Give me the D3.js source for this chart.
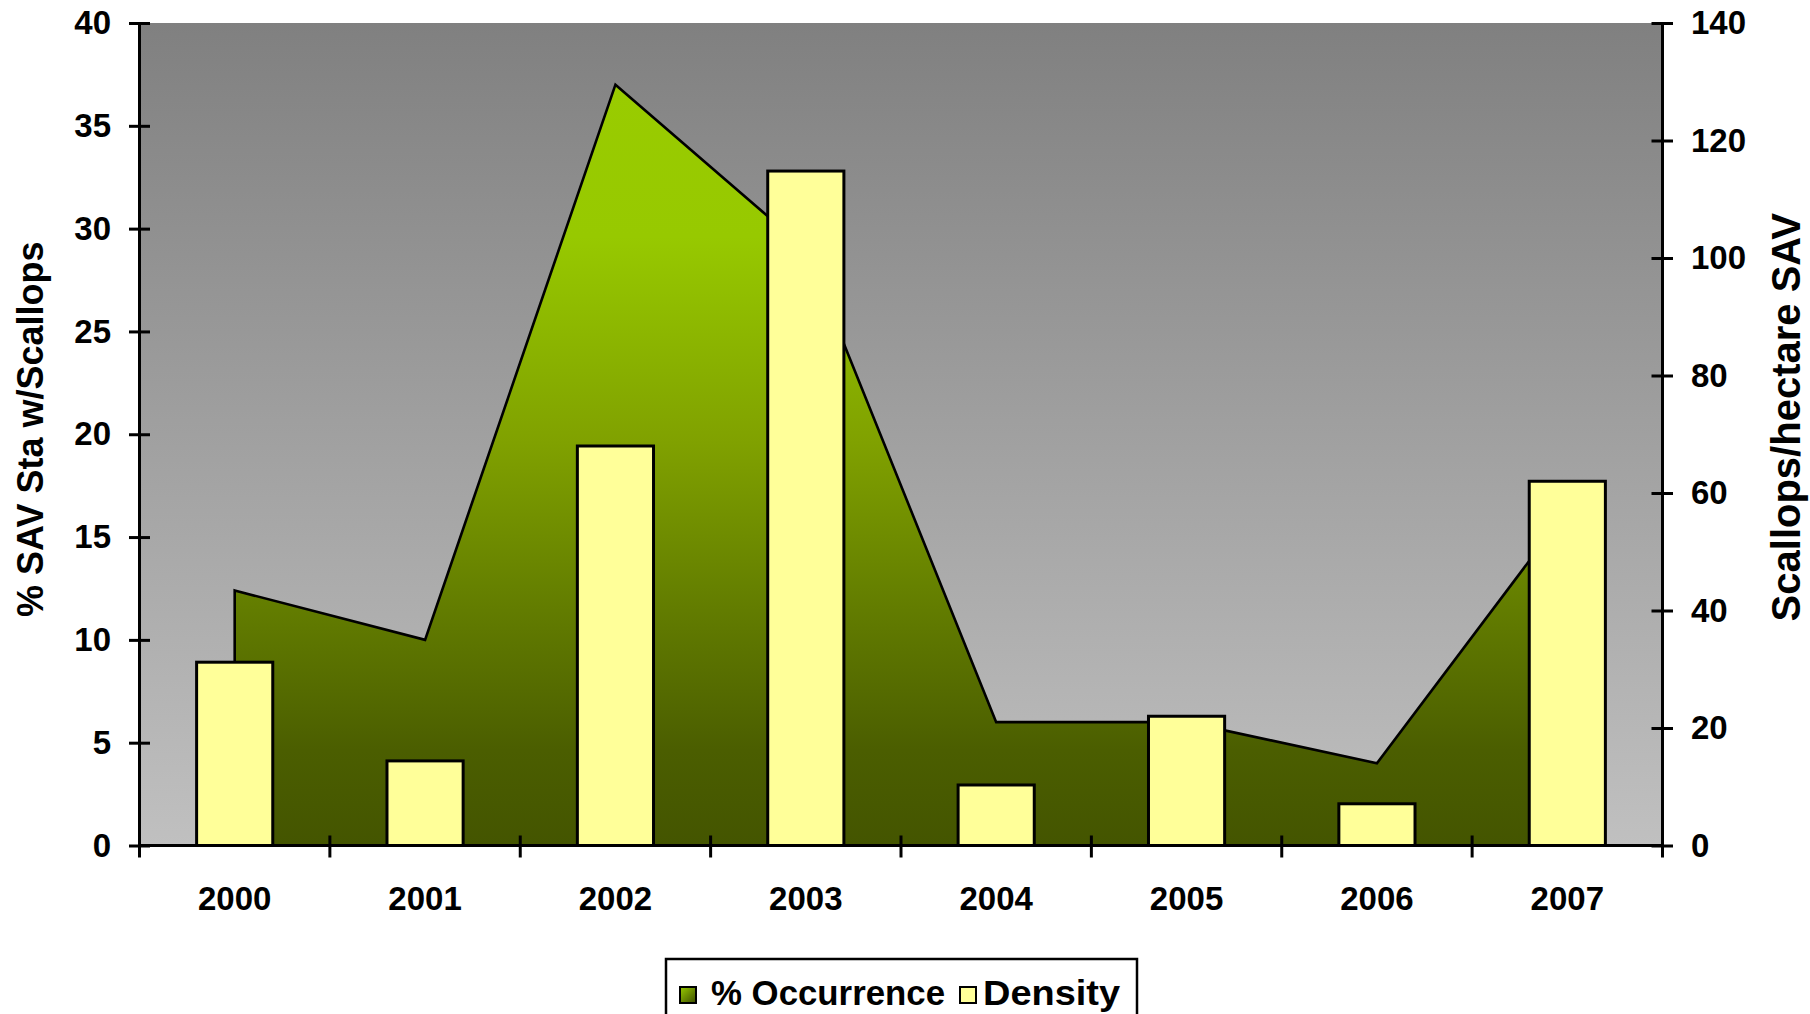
<!DOCTYPE html>
<html>
<head>
<meta charset="utf-8">
<script src="https://cdn.jsdelivr.net/npm/d3@7"></script>
<style>
  html, body { margin: 0; padding: 0; background: #ffffff; }
  svg { display: block; }
  text { font-family: "Liberation Sans", Arial, sans-serif; font-weight: bold; fill: #000; }
</style>
</head>
<body>
<svg id="chart" width="1810" height="1014"></svg>
<script>
// Scallop survey: occurrence at SAV stations (area, left axis) and density (bars, right axis)
const years = ["2000", "2001", "2002", "2003", "2004", "2005", "2006", "2007"];
const occurrence = [12.4, 10, 37, 29, 6, 6, 4, 16.3];        // % SAV stations with scallops
const density = [31.2, 14.4, 68, 114.8, 10.3, 22, 7.1, 62];   // scallops per hectare SAV
const leftTicks = [0, 5, 10, 15, 20, 25, 30, 35, 40];
const rightTicks = [0, 20, 40, 60, 80, 100, 120, 140];
const seriesNames = ["% Occurrence", "Density"];

const svg = d3.select("#chart");
const plot = { left: 139.5, right: 1662.5, top: 23, bottom: 845.5 };

const x = d3.scaleBand().domain(years)
  .range([plot.left, plot.right]).paddingInner(0.6).paddingOuter(0.3);
const xEdge = d3.scaleLinear().domain([0, years.length]).range([plot.left, plot.right]);
const yL = d3.scaleLinear().domain([0, 40]).range([plot.bottom, plot.top]);
const yR = d3.scaleLinear().domain([0, 140]).range([plot.bottom, plot.top]);
const cx = d => x(d) + x.bandwidth() / 2;

const defs = svg.append("defs");
const bg = defs.append("linearGradient").attr("id", "plotBg")
  .attr("x1", 0).attr("y1", 0).attr("x2", 0).attr("y2", 1);
bg.append("stop").attr("offset", 0).attr("stop-color", "#808080");
bg.append("stop").attr("offset", 1).attr("stop-color", "#c0c0c0");

const green = defs.append("linearGradient").attr("id", "areaFill")
  .attr("gradientUnits", "userSpaceOnUse")
  .attr("x1", 0).attr("x2", 0).attr("y1", yL(37)).attr("y2", yL(0));
[[0, "#99cc00"], [0.2, "#97c900"], [0.47, "#80a100"], [0.66, "#668100"], [0.875, "#4b5e00"], [1, "#445500"]]
  .forEach(([o, c]) => green.append("stop").attr("offset", o).attr("stop-color", c));

const greenKey = defs.append("linearGradient").attr("id", "keyFill")
  .attr("x1", 0).attr("y1", 0).attr("x2", 1).attr("y2", 1);
greenKey.append("stop").attr("offset", 0).attr("stop-color", "#99cc00");
greenKey.append("stop").attr("offset", 1).attr("stop-color", "#3c4c00");

// plot background
svg.append("rect")
  .attr("x", plot.left).attr("y", plot.top)
  .attr("width", plot.right - plot.left).attr("height", plot.bottom - plot.top)
  .attr("fill", "url(#plotBg)");

// occurrence area
const area = d3.area()
  .x((d, i) => cx(years[i]))
  .y0(yL(0))
  .y1(d => yL(d));
svg.append("path").datum(occurrence)
  .attr("d", area(occurrence) + "Z")
  .attr("fill", "url(#areaFill)")
  .attr("stroke", "#000").attr("stroke-width", 2.6).attr("stroke-linejoin", "miter");

// density bars
svg.append("g").selectAll("rect").data(density).join("rect")
  .attr("x", (d, i) => x(years[i]))
  .attr("y", d => yR(d))
  .attr("width", x.bandwidth())
  .attr("height", d => yR(0) - yR(d))
  .attr("fill", "#ffff99")
  .attr("stroke", "#000").attr("stroke-width", 3);

const tickFont = sel => sel.style("font-size", "33px")
  .style("font-family", "Liberation Sans, Arial, sans-serif")
  .style("font-weight", "bold").attr("fill", "#000");

// left axis
const gL = svg.append("g").attr("transform", `translate(${plot.left},0)`)
  .call(d3.axisLeft(yL).tickValues(leftTicks).tickSize(10.5).tickPadding(18));
gL.select(".domain").attr("stroke", "#000").attr("stroke-width", 3)
  .attr("d", `M0,${plot.top}V${plot.bottom}`);
gL.selectAll(".tick line").attr("x1", 10.5).attr("stroke-width", 3);
gL.selectAll(".tick text").call(tickFont);

// right axis
const gR = svg.append("g").attr("transform", `translate(${plot.right},0)`)
  .call(d3.axisRight(yR).tickValues(rightTicks).tickSize(10.5).tickPadding(18));
gR.select(".domain").attr("stroke", "#000").attr("stroke-width", 3)
  .attr("d", `M0,${plot.top}V${plot.bottom}`);
gR.selectAll(".tick line").attr("x1", -11).attr("stroke-width", 3);
gR.selectAll(".tick text").call(tickFont);

// category axis with ticks between categories
const gX = svg.append("g");
gX.append("line")
  .attr("x1", plot.left).attr("x2", plot.right)
  .attr("y1", plot.bottom).attr("y2", plot.bottom)
  .attr("stroke", "#000").attr("stroke-width", 3);
gX.selectAll(".edge").data(d3.range(years.length + 1)).join("line")
  .attr("class", "edge")
  .attr("x1", i => xEdge(i)).attr("x2", i => xEdge(i))
  .attr("y1", plot.bottom - 10).attr("y2", plot.bottom + 12)
  .attr("stroke", "#000").attr("stroke-width", 3);
gX.selectAll(".lbl").data(years).join("text")
  .attr("class", "lbl")
  .attr("x", d => cx(d)).attr("y", 910)
  .attr("text-anchor", "middle")
  .style("font-size", "33px")
  .text(d => d);

// axis titles
svg.append("text")
  .attr("transform", `translate(43,${(plot.top + plot.bottom) / 2 - 5}) rotate(-90)`)
  .attr("text-anchor", "middle")
  .style("font-size", "36px")
  .text("% SAV Sta w/Scallops");
svg.append("text")
  .attr("transform", `translate(1800,${(plot.top + plot.bottom) / 2 - 17}) rotate(-90)`)
  .attr("text-anchor", "middle")
  .style("font-size", "40px")
  .text("Scallops/hectare SAV");

// legend
const lg = svg.append("g");
lg.append("rect").attr("x", 666).attr("y", 959).attr("width", 471).attr("height", 70)
  .attr("fill", "#fff").attr("stroke", "#000").attr("stroke-width", 2.5);
lg.append("rect").attr("x", 680).attr("y", 987).attr("width", 16).attr("height", 16)
  .attr("fill", "url(#keyFill)").attr("stroke", "#000").attr("stroke-width", 2);
lg.append("text").attr("x", 711).attr("y", 1005).style("font-size", "35px")
  .attr("textLength", 234).attr("lengthAdjust", "spacingAndGlyphs")
  .text(seriesNames[0]);
lg.append("rect").attr("x", 960).attr("y", 987).attr("width", 16).attr("height", 16)
  .attr("fill", "#ffff99").attr("stroke", "#000").attr("stroke-width", 2);
lg.append("text").attr("x", 983).attr("y", 1005).style("font-size", "35px")
  .attr("textLength", 137).attr("lengthAdjust", "spacingAndGlyphs")
  .text(seriesNames[1]);
</script>
</body>
</html>
